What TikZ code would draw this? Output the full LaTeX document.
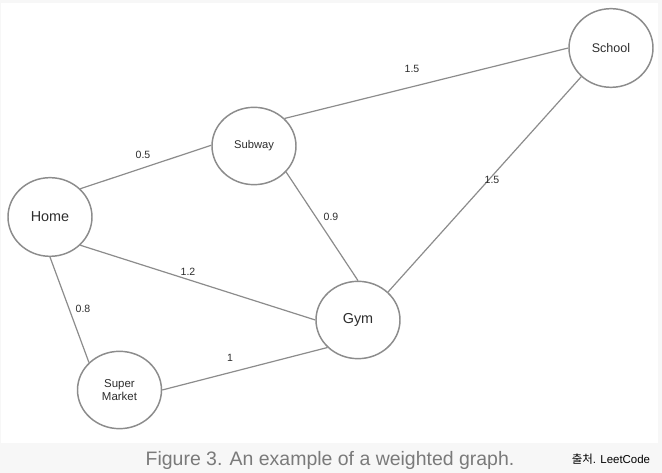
\documentclass[tikz,border=0pt]{standalone}
\usepackage{fontspec}
\setmainfont{Liberation Sans}
\newfontfamily\krfont{Noto Sans CJK KR}
\usetikzlibrary{shapes.geometric}
\definecolor{edgegray}{HTML}{8C8C8C}
\definecolor{txtdark}{HTML}{2E2E2E}
\definecolor{bggray}{HTML}{F7F7F7}
\definecolor{capgray}{HTML}{7A7A7A}
\begin{document}
\begin{tikzpicture}[x=0.75pt,y=-0.75pt,
  place/.style={ellipse,draw=edgegray,line width=1.1pt,fill=white,inner sep=0pt,
    minimum width=63pt,minimum height=59pt,text=txtdark,align=center},
  link/.style={draw=edgegray,line width=0.9pt},
  wlabel/.style={text=txtdark,font=\fontsize{7.9pt}{9pt}\selectfont,inner sep=0pt}]
\fill[bggray] (0,0) rectangle (662,473);
\fill[white] (1,3) rectangle (658,443);
\useasboundingbox (0,0) rectangle (662,473);
% nodes
\node[place,font=\fontsize{10.8pt}{12pt}\selectfont] (home) at (50,217) {Home};
\node[place,font=\fontsize{8.4pt}{9.8pt}\selectfont,minimum height=58pt] (subway) at (254,146) {Subway};
\node[place,font=\fontsize{9.4pt}{11pt}\selectfont] (school) at (611,48) {School};
\node[place,font=\fontsize{10.8pt}{12pt}\selectfont,minimum height=58pt] (gym) at (358,320) {Gym};
\node[place,font=\fontsize{8.6pt}{10pt}\selectfont,minimum height=58pt] (market) at (119.5,390) {Super\\Market};
% edges
\draw[link] (home.43) -- (subway.179);
\draw[link] (subway.42) -- (school.180);
\draw[link] (subway.-39) -- (gym.90);
\draw[link] (school.224) -- (gym.43);
\draw[link] (home.-43) -- (gym.180);
\draw[link] (home.-90) -- (market.138);
\draw[link] (market.0) -- (gym.222);
% weights
\node[wlabel] (w1) at (143,155) {0.5};
\node[wlabel] (w2) at (412,69) {1.5};
\node[wlabel] (w3) at (492,180) {1.5};
\node[wlabel] (w4) at (331,217) {0.9};
\node[wlabel] (w5) at (188,272) {1.2};
\node[wlabel] (w6) at (83,309) {0.8};
\node[wlabel] (w7) at (230,358) {1};
% caption
\node[text=capgray,font=\fontsize{14.6pt}{16pt}\selectfont,inner sep=0pt] (cap) at (330,460) {Figure 3. An example of a weighted graph.};
\node[text=black,font=\fontsize{8.6pt}{10pt}\selectfont,inner sep=0pt] (src) at (611,459) {{\krfont 출처}. LeetCode};
\end{tikzpicture}
\end{document}
